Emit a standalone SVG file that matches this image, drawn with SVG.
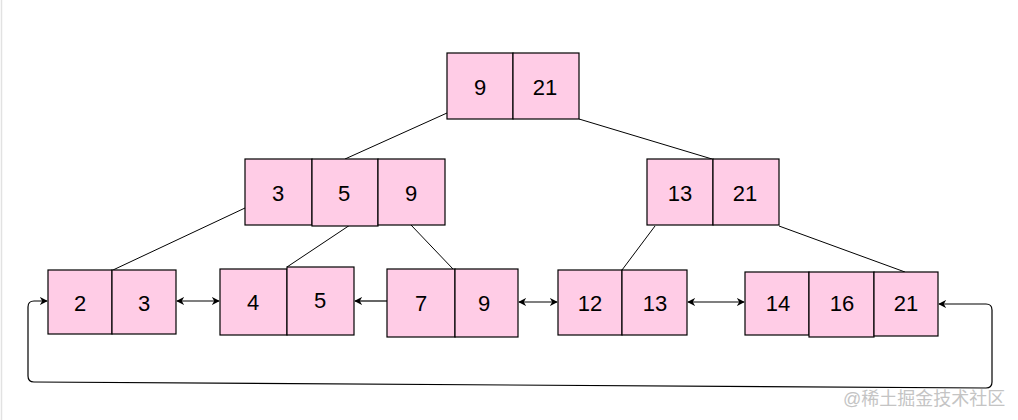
<svg xmlns="http://www.w3.org/2000/svg" width="1018" height="420" viewBox="0 0 1018 420">
<style>
.c{fill:#FFCCE6;stroke:#000;stroke-width:1.2}
.t{font-family:"Liberation Sans",Arial,sans-serif;font-size:22px;fill:#000;text-anchor:middle}
.e{stroke:#000;stroke-width:1;fill:none}
.a{stroke:#000;stroke-width:1.2;fill:none}
</style>
<defs>
<marker id="ah" viewBox="0 0 10 10" refX="9" refY="5" markerWidth="8" markerHeight="8" orient="auto-start-reverse" markerUnits="userSpaceOnUse">
<path d="M0,0 L10,5 L0,10 L3,5 Z" fill="#000"/>
</marker>
</defs>
<rect x="0" y="0" width="1018" height="420" fill="#fff"/>
<line x1="1.5" y1="0" x2="1.5" y2="420" stroke="#e2e2e2" stroke-width="1.5"/>
<g id="connectors">
<line class="e" x1="447" y1="113" x2="345" y2="159"/>
<line class="e" x1="579" y1="119" x2="712" y2="159"/>
<line class="e" x1="245" y1="208" x2="113" y2="270"/>
<line class="e" x1="350" y1="225" x2="287" y2="267"/>
<line class="e" x1="411" y1="225" x2="453" y2="269"/>
<line class="e" x1="655" y1="226" x2="622" y2="270"/>
<line class="e" x1="779" y1="226" x2="905" y2="272"/>
<line class="a" x1="177" y1="301" x2="219" y2="301" marker-start="url(#ah)" marker-end="url(#ah)"/>
<line class="a" x1="355" y1="301" x2="387" y2="301" marker-start="url(#ah)"/>
<line class="a" x1="519" y1="302" x2="557" y2="302" marker-start="url(#ah)" marker-end="url(#ah)"/>
<line class="a" x1="688" y1="302" x2="744" y2="302" marker-start="url(#ah)" marker-end="url(#ah)"/>
<path class="a" d="M939 304 L986 304 Q992 304 992 310 L992 382 Q992 388 986 388 L34 382 Q28 382 28 376 L28 307 Q28 301 34 301 L47 301" marker-start="url(#ah)" marker-end="url(#ah)"/>
</g>
<g id="root">
<rect class="c" x="447" y="53" width="66" height="66"/>
<rect class="c" x="513" y="53" width="66" height="66"/>
<text class="t" x="480" y="95">9</text>
<text class="t" x="545" y="95">21</text>
</g>
<g id="n-3-5-9">
<rect class="c" x="245" y="159" width="67" height="66"/>
<rect class="c" x="312" y="159" width="66" height="67"/>
<rect class="c" x="378" y="159" width="67" height="66"/>
<text class="t" x="278" y="201">3</text>
<text class="t" x="344" y="201">5</text>
<text class="t" x="411" y="201">9</text>
</g>
<g id="n-13-21">
<rect class="c" x="647" y="159" width="66" height="66"/>
<rect class="c" x="713" y="159" width="66" height="66"/>
<text class="t" x="680" y="201">13</text>
<text class="t" x="745" y="201">21</text>
</g>
<g id="leaf-2-3">
<rect class="c" x="48" y="270" width="64" height="64"/>
<rect class="c" x="112" y="270" width="64" height="64"/>
<text class="t" x="80" y="311">2</text>
<text class="t" x="144" y="311">3</text>
</g>
<g id="leaf-4-5">
<rect class="c" x="220" y="269" width="67" height="66"/>
<rect class="c" x="287" y="267" width="67" height="68"/>
<text class="t" x="253" y="310">4</text>
<text class="t" x="320" y="308">5</text>
</g>
<g id="leaf-7-9">
<rect class="c" x="387" y="269" width="68" height="68"/>
<rect class="c" x="455" y="269" width="63" height="68"/>
<text class="t" x="421" y="311">7</text>
<text class="t" x="484" y="311">9</text>
</g>
<g id="leaf-12-13">
<rect class="c" x="558" y="270" width="64" height="65"/>
<rect class="c" x="622" y="270" width="65" height="65"/>
<text class="t" x="590" y="311">12</text>
<text class="t" x="655" y="311">13</text>
</g>
<g id="leaf-14-16-21">
<rect class="c" x="745" y="272" width="64" height="63"/>
<rect class="c" x="809" y="272" width="65" height="65"/>
<rect class="c" x="874" y="272" width="64" height="64"/>
<text class="t" x="778" y="311">14</text>
<text class="t" x="842" y="311">16</text>
<text class="t" x="906" y="311">21</text>
</g>
<text x="843" y="405" font-family="'Liberation Sans','Noto Sans CJK SC',sans-serif" font-size="18" fill="#c4c4c4">@稀土掘金技术社区</text>
</svg>
